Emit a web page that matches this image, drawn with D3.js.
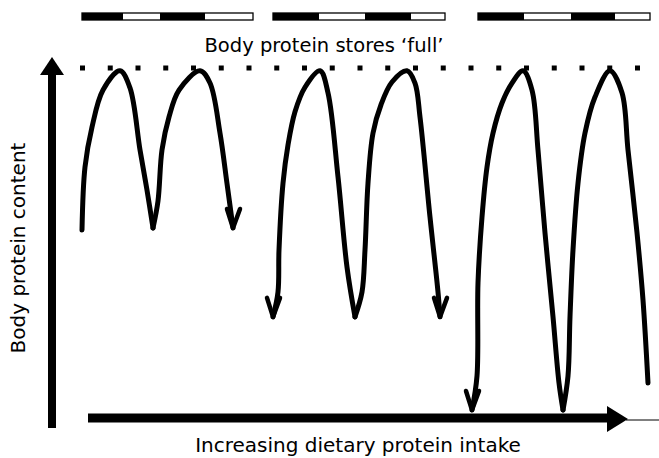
<!DOCTYPE html>
<html>
<head>
<meta charset="utf-8">
<script src="https://cdn.jsdelivr.net/npm/d3@7"></script>
<style>
  body { margin: 0; background: #fff; }
  svg { display: block; font-family: 'DejaVu Sans', sans-serif; }
</style>
</head>
<body>
<svg id="chart" width="659" height="458"></svg>
<script>
// Arches: [dietary intake, body protein content (% of full stores)]
const arch1a = [[6.4, 53.7], [7, 71.7], [8.4, 83.1], [10.6, 93.7], [14, 99.2], [16, 94.3], [18, 76.6], [19.4, 65.1], [20.6, 54.3]];
const arch1b = [[20.6, 54.3], [21.6, 62], [22.4, 76.6], [23.8, 86], [25.8, 93.7], [30, 99.2], [32, 95.7], [34, 81.4], [35.4, 67], [36.6, 54.3]];
const arch2a = [[44.6, 28.9], [45.6, 36], [45.8, 48], [46.6, 67.1], [47.6, 78], [49, 87.5], [51, 94.5], [54, 99.2], [55.6, 92.9], [57.6, 68.9], [59.4, 43.1], [61, 28.9]];
const arch2b = [[61, 28.9], [62.4, 36], [63, 48], [63.6, 67.1], [64.6, 81.4], [66.2, 89.5], [68.4, 96], [71.4, 99.2], [73, 95.7], [74, 86], [76, 57.4], [77.6, 36], [78, 28.9]];
const arch3a = [[84.4, 2.3], [85.4, 12], [85.6, 38.6], [86.4, 57.4], [87.4, 71.7], [88.6, 81.4], [90.4, 90], [92.4, 95.7], [94.6, 99.2], [96.4, 93.7], [97.6, 76.6], [99, 52.9], [100.6, 28.9], [101.8, 10], [102.6, 2.3]];
const arch3b = [[102.6, 2.3], [103.6, 12], [104, 28.9], [104.6, 48], [105.6, 67.1], [107, 81.4], [109, 91.7], [112, 99.2], [114.4, 92.9], [115.6, 76.6], [117.4, 52.9], [118.6, 33.7], [119.6, 10]];
const arches = [arch1a, arch1b, arch2a, arch2b, arch3a, arch3b];

// Open arrowheads at the loose ends of the curves
const arrowTips = [[36.6, 54.3], [44.6, 28.9], [78, 28.9], [84.4, 2.3]];

// Feeding bars: segment edges, alternating dark / light
const barEdges = [
  [6.4, 14.6, 22, 31, 40.6],
  [44.6, 53.8, 63, 72.2, 79],
  [85.6, 94.8, 104.2, 113, 120]
];

const fullLevel = 100;
const fullExtent = [6, 118];
const title = 'Body protein stores \u2018full\u2019';
const xLabel = 'Increasing dietary protein intake';
const yLabel = 'Body protein content';

const svg = d3.select('#chart');

const x = d3.scaleLinear().domain([0, 120]).range([50, 650]);
const y = d3.scaleLinear().domain([0, 100]).range([418, 68]);

// Bars along the top
const bars = svg.append('g');
barEdges.forEach((edges) => {
  for (let i = 0; i < edges.length - 1; i++) {
    bars.append('rect')
      .attr('x', x(edges[i]))
      .attr('y', 13)
      .attr('width', x(edges[i + 1]) - x(edges[i]))
      .attr('height', 7)
      .attr('fill', i % 2 === 0 ? '#000' : '#fff');
  }
  bars.append('rect')
    .attr('x', x(edges[0]))
    .attr('y', 13)
    .attr('width', x(edges[edges.length - 1]) - x(edges[0]))
    .attr('height', 7)
    .attr('fill', 'none')
    .attr('stroke', '#000')
    .attr('stroke-width', 1.3);
});

svg.append('text')
  .attr('x', 324)
  .attr('y', 52)
  .attr('text-anchor', 'middle')
  .attr('font-size', 19.5)
  .text(title);

// 'Full' level, dotted
svg.append('line')
  .attr('x1', x(fullExtent[0]))
  .attr('x2', x(fullExtent[1]))
  .attr('y1', y(fullLevel))
  .attr('y2', y(fullLevel))
  .attr('stroke', '#000')
  .attr('stroke-width', 5)
  .attr('stroke-dasharray', '5 22.75');

// Curves
const line = d3.line()
  .x((d) => x(d[0]))
  .y((d) => y(d[1]))
  .curve(d3.curveCatmullRom.alpha(0.5));

svg.append('g')
  .selectAll('path')
  .data(arches)
  .join('path')
  .attr('d', line)
  .attr('fill', 'none')
  .attr('stroke', '#000')
  .attr('stroke-width', 5)
  .attr('stroke-linecap', 'round')
  .attr('stroke-linejoin', 'round');

svg.append('g')
  .selectAll('path')
  .data(arrowTips)
  .join('path')
  .attr('d', (d) => {
    const tx = x(d[0]), ty = y(d[1]);
    return `M${tx - 6},${ty - 19}L${tx},${ty}L${tx + 7},${ty - 19}`;
  })
  .attr('fill', 'none')
  .attr('stroke', '#000')
  .attr('stroke-width', 4.5)
  .attr('stroke-linecap', 'round')
  .attr('stroke-linejoin', 'round');

// Axes
const axes = svg.append('g');
axes.append('line')
  .attr('x1', 52).attr('x2', 52)
  .attr('y1', 428).attr('y2', 72)
  .attr('stroke', '#000')
  .attr('stroke-width', 8);
axes.append('path')
  .attr('d', 'M52,57L40,75L64,75Z')
  .attr('fill', '#000');

axes.append('line')
  .attr('x1', 88).attr('x2', 612)
  .attr('y1', 418).attr('y2', 418)
  .attr('stroke', '#000')
  .attr('stroke-width', 9);
axes.append('path')
  .attr('d', 'M628,419L607,406L607,432Z')
  .attr('fill', '#000');
axes.append('line')
  .attr('x1', 626).attr('x2', 659)
  .attr('y1', 420).attr('y2', 420)
  .attr('stroke', '#000')
  .attr('stroke-width', 1);

svg.append('text')
  .attr('x', 358)
  .attr('y', 452)
  .attr('text-anchor', 'middle')
  .attr('font-size', 20)
  .text(xLabel);

svg.append('text')
  .attr('transform', 'translate(25,248) rotate(-90)')
  .attr('text-anchor', 'middle')
  .attr('font-size', 20)
  .text(yLabel);
</script>
</body>
</html>
